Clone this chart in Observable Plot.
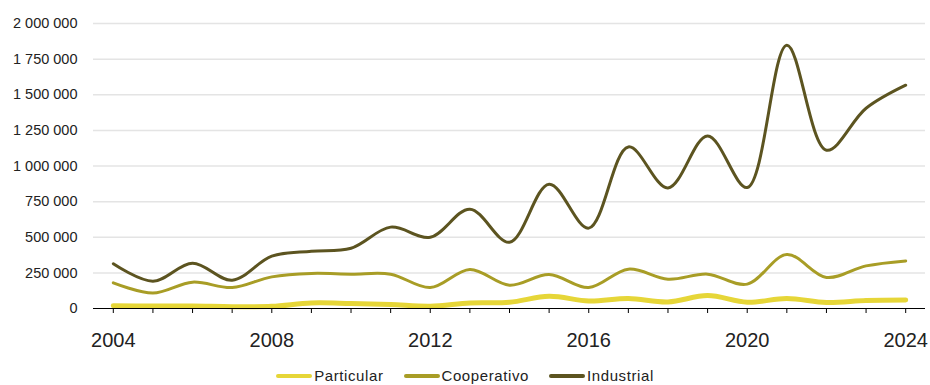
<!DOCTYPE html>
<html>
<head>
<meta charset="utf-8">
<script src="https://cdn.jsdelivr.net/npm/d3@7"></script>
<script src="https://cdn.jsdelivr.net/npm/@observablehq/plot@0.6"></script>
<style>
  html, body { margin: 0; padding: 0; background: #fff; }
  body { width: 930px; height: 385px; overflow: hidden; font-family: "Liberation Sans", Arial, sans-serif; }
  #legend { display: flex; justify-content: center; gap: 20px; margin-top: 12px; font-size: 15px; letter-spacing: 0.6px; color: #222; padding-left: 0px; }
  .item { display: flex; align-items: center; }
  .sw { width: 36px; height: 4px; border-radius: 2px; margin-right: 2px; }
</style>
</head>
<body>
<div id="chart"></div>
<div id="legend"></div>
<script>
const years = d3.range(2004, 2025);
const seriesNames = ["Particular", "Cooperativo", "Industrial"];
const particular = [20000, 17000, 17000, 13000, 15000, 39000, 35000, 28000, 16000, 39000, 44000, 86000, 53000, 70000, 46000, 91000, 44000, 70000, 42000, 56000, 60000];
const cooperativo = [180000, 109000, 185000, 147000, 222000, 246000, 241000, 241000, 147000, 274000, 164000, 239000, 147000, 276000, 206000, 241000, 171000, 379000, 218000, 299000, 334000];
const industrial = [314000, 192000, 318000, 199000, 367000, 402000, 423000, 571000, 500000, 697000, 465000, 872000, 564000, 1134000, 846000, 1211000, 849000, 1848000, 1111000, 1405000, 1567000];
const yTicks = [0, 250000, 500000, 750000, 1000000, 1250000, 1500000, 1750000, 2000000];
const xLabelYears = [2004, 2008, 2012, 2016, 2020, 2024];

const colors = ["#e6d638", "#a89d26", "#5c5420"];
const widths = [5, 3, 3];
const valuesBySeries = [particular, cooperativo, industrial];

const data = [];
seriesNames.forEach((s, i) => years.forEach((y, j) => data.push({series: s, year: y, value: valuesBySeries[i][j]})));

const fmt = d3.formatLocale({decimal: ",", thousands: " ", grouping: [3], currency: ["", ""]}).format(",d");

const marks = [
  Plot.gridY(yTicks.filter(d => d > 0), {stroke: "#e4e4e4", strokeOpacity: 1, strokeWidth: 1.5}),
  Plot.axisY(yTicks, {tickSize: 0, tickPadding: 16, tickFormat: fmt, fontSize: 14.5, fill: "#222", label: null}),
  Plot.axisX(years, {tickSize: 5, tickPadding: 19, tickFormat: d => xLabelYears.includes(d) ? String(d) : "", fontSize: 20, fill: "#222", stroke: "#000", label: null}),
];
seriesNames.forEach((s, i) => {
  marks.push(Plot.line(data.filter(d => d.series === s), {x: "year", y: "value", stroke: colors[i], strokeWidth: widths[i], curve: "catmull-rom", strokeLinecap: "round"}));
});
marks.push(Plot.ruleY([0], {stroke: "#000", strokeWidth: 1.2}));

const chart = Plot.plot({
  width: 930,
  height: 355,
  marginTop: 23,
  marginBottom: 47,
  marginLeft: 93,
  marginRight: 5,
  style: {fontFamily: "'Liberation Sans', Arial, sans-serif", color: "#222", background: "#fff"},
  x: {domain: [2003.5, 2024.5]},
  y: {domain: [0, 2000000]},
  marks
});
document.getElementById("chart").appendChild(chart);

const legend = document.getElementById("legend");
seriesNames.forEach((s, i) => {
  const it = document.createElement("div");
  it.className = "item";
  const sw = document.createElement("span");
  sw.className = "sw";
  sw.style.background = colors[i];
  const t = document.createElement("span");
  t.textContent = s;
  it.appendChild(sw); it.appendChild(t);
  legend.appendChild(it);
});
</script>
</body>
</html>
